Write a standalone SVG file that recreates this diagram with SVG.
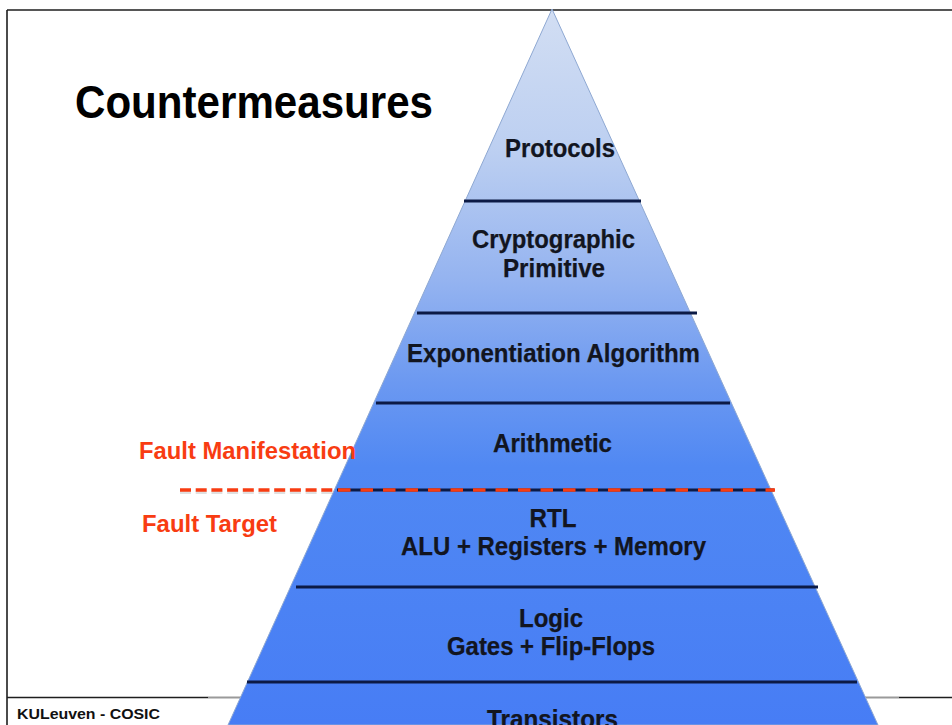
<svg xmlns="http://www.w3.org/2000/svg" width="952" height="725" viewBox="0 0 952 725">
  <defs>
    <linearGradient id="pyramidFill" gradientUnits="userSpaceOnUse" x1="0" y1="9" x2="0" y2="725">
      <stop offset="0" stop-color="#d2def3"/>
      <stop offset="0.2" stop-color="#bccff1"/>
      <stop offset="0.38" stop-color="#94b3f0"/>
      <stop offset="0.52" stop-color="#6c99f1"/>
      <stop offset="0.64" stop-color="#5088f3"/>
      <stop offset="1" stop-color="#477df5"/>
    </linearGradient>
  </defs>
  <style>
    .frame { stroke: #1e1e1e; stroke-width: 1.6; fill: none; }
    .frame-soft { stroke: #9a9a9a; stroke-width: 2; fill: none; }
    .tier { stroke: #0c1a45; stroke-width: 3.2; fill: none; }
    .label { font-family: "Liberation Sans", Arial, sans-serif; font-weight: bold; font-size: 25px; fill: #121520; stroke: #121520; stroke-width: 0.25; text-anchor: middle; }
    .title { font-family: "Liberation Sans", Arial, sans-serif; font-weight: bold; font-size: 47px; fill: #000000; }
    .fault { font-family: "Liberation Sans", Arial, sans-serif; font-weight: bold; font-size: 24.5px; fill: #f83c12; }
    .footer { font-family: "Liberation Sans", Arial, sans-serif; font-weight: bold; font-size: 15.5px; fill: #111111; }
    .boundary { stroke: #f83c12; stroke-width: 3.6; fill: none; }
    .boundary-shadow { stroke: #000000; stroke-opacity: 0.12; stroke-width: 3; fill: none; }
  </style>

  <rect x="0" y="0" width="952" height="725" fill="#ffffff"/>

  <!-- slide frame -->
  <g id="frame">
    <line class="frame" x1="7" y1="10" x2="952" y2="10"/>
    <line class="frame" x1="7" y1="10" x2="7" y2="725"/>
    <line class="frame-soft" x1="208" y1="697.5" x2="899" y2="697.5"/>
    <line class="frame" x1="7" y1="697.5" x2="208" y2="697.5"/>
    <line class="frame" x1="899" y1="697.5" x2="952" y2="697.5"/>
  </g>

  <!-- pyramid body -->
  <polygon id="pyramid" points="552,9 228,725 878,725" fill="url(#pyramidFill)" stroke="#8ea8d2" stroke-width="1"/>

  <!-- tier separators -->
  <g id="tier-lines">
    <line class="tier" x1="464" y1="201" x2="641" y2="201"/>
    <line class="tier" x1="417" y1="313" x2="697" y2="313"/>
    <line class="tier" x1="376" y1="403" x2="730" y2="403"/>
    <line class="tier" x1="337" y1="490" x2="774" y2="490"/>
    <line class="tier" x1="296" y1="587" x2="818" y2="587"/>
    <line class="tier" x1="247" y1="682" x2="857" y2="682"/>
  </g>

  <!-- tier labels -->
  <g id="protocols"><text class="label" x="560" y="157" textLength="110" lengthAdjust="spacingAndGlyphs">Protocols</text></g>
  <g id="primitive">
    <text class="label" x="553.5" y="248" textLength="163" lengthAdjust="spacingAndGlyphs">Cryptographic</text>
    <text class="label" x="554" y="277" textLength="102" lengthAdjust="spacingAndGlyphs">Primitive</text>
  </g>
  <g id="exponentiation"><text class="label" x="553.5" y="362" textLength="293" lengthAdjust="spacingAndGlyphs">Exponentiation Algorithm</text></g>
  <g id="arithmetic"><text class="label" x="552.5" y="452" textLength="119" lengthAdjust="spacingAndGlyphs">Arithmetic</text></g>
  <g id="rtl">
    <text class="label" x="553" y="527" textLength="47" lengthAdjust="spacingAndGlyphs">RTL</text>
    <text class="label" x="553.5" y="555" textLength="305" lengthAdjust="spacingAndGlyphs">ALU + Registers + Memory</text>
  </g>
  <g id="logic">
    <text class="label" x="551" y="627" textLength="64" lengthAdjust="spacingAndGlyphs">Logic</text>
    <text class="label" x="551" y="655" textLength="208" lengthAdjust="spacingAndGlyphs">Gates + Flip-Flops</text>
  </g>
  <g id="transistors"><text class="label" x="552.5" y="728" textLength="131" lengthAdjust="spacingAndGlyphs">Transistors</text></g>

  <!-- fault boundary between manifestation and target -->
  <g id="fault-boundary">
    <line class="boundary-shadow" x1="180" y1="492.5" x2="336" y2="492.5" stroke-dasharray="11 4.7"/>
    <line class="boundary" x1="180" y1="490" x2="336" y2="490" stroke-dasharray="11 4.7"/>
    <line class="boundary" x1="338" y1="490" x2="775" y2="490" stroke-dasharray="12.5 10"/>
  </g>

  <g id="fault-labels">
    <text class="fault" x="139" y="459" textLength="217" lengthAdjust="spacingAndGlyphs">Fault Manifestation</text>
    <text class="fault" x="142" y="532" textLength="135" lengthAdjust="spacingAndGlyphs">Fault Target</text>
  </g>

  <g id="title"><text class="title" x="75" y="118" textLength="358" lengthAdjust="spacingAndGlyphs">Countermeasures</text></g>

  <g id="footer"><text class="footer" x="17" y="719" textLength="143" lengthAdjust="spacingAndGlyphs">KULeuven - COSIC</text></g>
</svg>
